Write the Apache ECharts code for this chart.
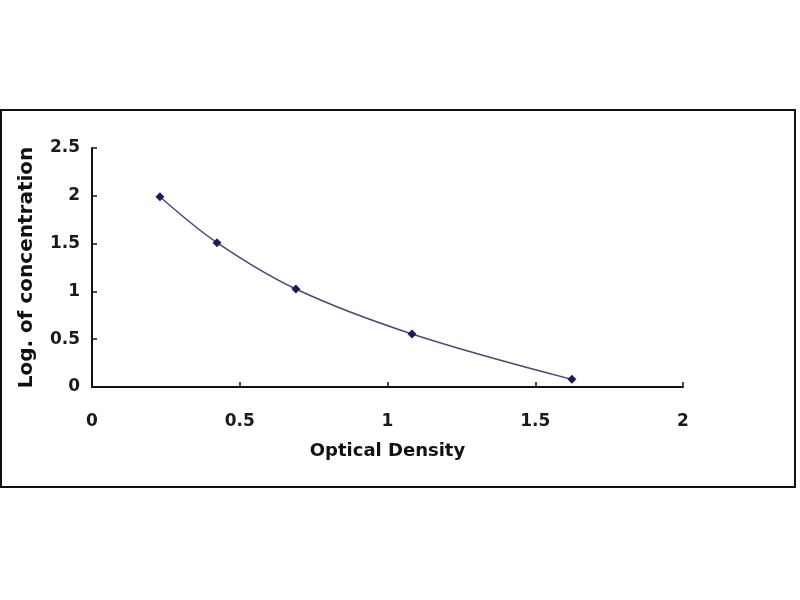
<!DOCTYPE html>
<html>
<head>
<meta charset="utf-8">
<script src="https://cdn.jsdelivr.net/npm/echarts@6/dist/echarts.min.js"></script>
<style>
html,body{margin:0;padding:0;background:#fff;}
#chart{width:800px;height:600px;}
</style>
</head>
<body>
<div id="chart"></div>
<script>
// standard curve values
var opticalDensity = [0.23, 0.423, 0.69, 1.083, 1.624];
var logConc = [1.99, 1.51, 1.025, 0.555, 0.08];
var xTitle = 'Optical Density';
var yTitle = 'Log. of concentration';

var points = [];
for (var i = 0; i < opticalDensity.length; i++) {
	points.push([opticalDensity[i], logConc[i]]);
}

var myChart = echarts.init(document.getElementById('chart'));
var boldFont = 'DejaVu Sans, Liberation Sans, Arial, sans-serif';
var tickFont = { fontFamily: boldFont, fontWeight: 'bold', fontSize: 17, color: '#1a1a1a' };
var option = {
	backgroundColor: '#fff',
	animation: false,
	grid: {
		left: 92,
		right: 117,
		top: 148,
		bottom: 213
	},
	graphic: [{
		type: 'rect',
		shape: { x: 1, y: 110, width: 794, height: 377 },
		style: { fill: null, stroke: '#111', lineWidth: 2 },
		silent: true
	}],
	xAxis: {
		type: 'value',
		min: 0,
		max: 2,
		interval: 0.5,
		name: xTitle,
		nameLocation: 'middle',
		nameGap: 55,
		nameTextStyle: { fontFamily: boldFont, fontWeight: 'bold', fontSize: 18, color: '#111' },
		axisLine: { lineStyle: { color: '#111', width: 2 } },
		axisTick: { inside: true, length: 5, lineStyle: { color: '#111', width: 1.5 } },
		axisLabel: Object.assign({ margin: 26 }, tickFont),
		splitLine: { show: false }
	},
	yAxis: {
		type: 'value',
		min: 0,
		max: 2.5,
		interval: 0.5,
		name: yTitle,
		nameLocation: 'middle',
		nameGap: 55,
		nameRotate: 90,
		nameTextStyle: { fontFamily: boldFont, fontWeight: 'bold', fontSize: 20, color: '#111' },
		axisLine: { show: true, lineStyle: { color: '#111', width: 2 } },
		axisTick: { show: true, inside: true, length: 5, lineStyle: { color: '#111', width: 1.5 } },
		axisLabel: Object.assign({ margin: 12 }, tickFont),
		splitLine: { show: false }
	},
	series: [{
		type: 'line',
		data: points,
		smooth: 0.35,
		symbol: 'diamond',
		symbolSize: 9,
		lineStyle: { color: '#4a4a7a', width: 1.5 },
		itemStyle: { color: '#1c1c5c' }
	}]
};
myChart.setOption(option);
</script>
</body>
</html>
